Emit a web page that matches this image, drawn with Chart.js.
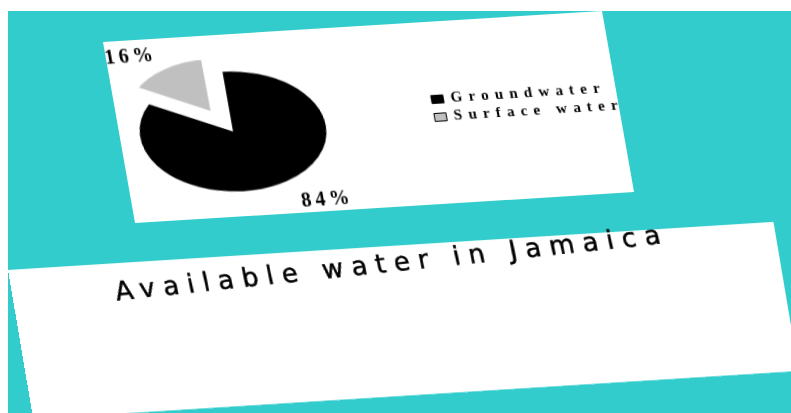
<!DOCTYPE html>
<html>
<head>
  <title>Available water in Jamaica</title>
  <script src="https://cdn.jsdelivr.net/npm/chart.js"></script>
  <style>
    html, body {
      margin: 0;
      width: 791px;
      height: 413px;
      overflow: hidden;
      background: #fff;
    }
    .stage {
      position: absolute;
      left: 8px;
      top: 11px;
      width: 783px;
      height: 402px;
      background: #33cccc;
      overflow: hidden;
    }
    .card {
      position: absolute;
      background: #fff;
      transform-origin: 0 0;
    }
    .card-chart {
      left: 95px;
      top: 31px;
      width: 500px;
      height: 182px;
      transform: matrix(0.998, -0.062, 0.176, 0.995, 0, 0);
    }
    .card-title {
      left: 0;
      top: 259px;
      width: 767px;
      height: 150px;
      transform: matrix(0.998, -0.0627, 0.168, 0.994, 0, 0);
    }
    #chart {
      position: absolute;
      left: -86px;
      top: 0;
    }
    .title {
      position: absolute;
      left: 103px;
      top: 15px;
      font-family: "DejaVu Sans", sans-serif;
      font-size: 26px;
      line-height: 26px;
      letter-spacing: 8.3px;
      white-space: nowrap;
      color: #000;
      -webkit-text-stroke: 0.5px #000;
      transform-origin: 0 22px;
      transform: rotate(-2.35deg);
    }
  </style>
</head>
<body>
  <div class="stage">
    <div class="card card-chart">
      <canvas id="chart" width="601" height="182" style="width:601px;height:182px"></canvas>
    </div>
    <div class="card card-title">
      <div class="title">Available water in Jamaica</div>
    </div>
  </div>
<script>
const sources = ['Groundwater', 'Surface water'];
const shares = [84, 16];
const sliceColors = ['#000000', '#c0c0c0'];
const sliceOffsets = [0, 104];

const pieTilt = 0.645;    // flattens the pie into an ellipse
const labelShift = 0.125; // radians, labels sit a little anticlockwise of the slice middle

// squash the pie and write the % labels round it
const tiltPlugin = {
  id: 'tilt',
  beforeUpdate(chart) {
    chart.ctx.letterSpacing = '6.2px';
  },
  beforeDraw(chart) {
    chart.ctx.letterSpacing = '6.2px';
  },
  beforeDatasetsDraw(chart) {
    const arc = chart.getDatasetMeta(0).data[0];
    const ctx = chart.ctx;
    ctx.save();
    ctx.translate(arc.x, arc.y);
    ctx.scale(1, pieTilt);
    ctx.translate(-arc.x, -arc.y);
  },
  afterDatasetsDraw(chart) {
    const ctx = chart.ctx;
    ctx.restore();
    ctx.save();
    ctx.letterSpacing = '4px';
    ctx.font = 'bold 20px "Liberation Serif"';
    ctx.fillStyle = '#000';
    ctx.textAlign = 'center';
    ctx.textBaseline = 'middle';
    chart.getDatasetMeta(0).data.forEach((arc, i) => {
      const mid = (arc.startAngle + arc.endAngle) / 2;
      const off = (arc.options.offset || 0) / 4;
      const a = mid - labelShift;
      const d = arc.outerRadius * 1.44;
      const dx = Math.cos(mid) * off + Math.cos(a) * d;
      const dy = (Math.sin(mid) * off + Math.sin(a) * d) * pieTilt;
      ctx.fillText(shares[i] + '%', arc.x + dx + 3, arc.y + dy + 4);
    });
    ctx.restore();
  }
};

new Chart(document.getElementById('chart'), {
  type: 'pie',
  data: {
    labels: sources,
    datasets: [{
      data: shares,
      backgroundColor: sliceColors,
      borderColor: ['#000000', '#ffffff'],
      borderWidth: [0, 12],
      borderAlign: 'center',
      offset: sliceOffsets,
      radius: 93,
      cutout: '0%',
      rotation: 0,
      clip: false
    }]
  },
  options: {
    responsive: false,
    animation: false,
    devicePixelRatio: 1,
    layout: {
      padding: {left: 0, right: 0, top: 67, bottom: 55}
    },
    plugins: {
      legend: {
        position: 'right',
        align: 'start',
        labels: {
          boxWidth: 12,
          boxHeight: 8,
          padding: 3,
          color: '#000',
          font: {family: '"Liberation Serif"', size: 15, weight: 'bold'},
          generateLabels: (chart) =>
            Chart.overrides.pie.plugins.legend.labels.generateLabels(chart)
              .map(item => Object.assign(item, {strokeStyle: '#000', lineWidth: 1}))
        }
      },
      tooltip: {enabled: false}
    }
  },
  plugins: [tiltPlugin]
});
</script>
</body>
</html>
